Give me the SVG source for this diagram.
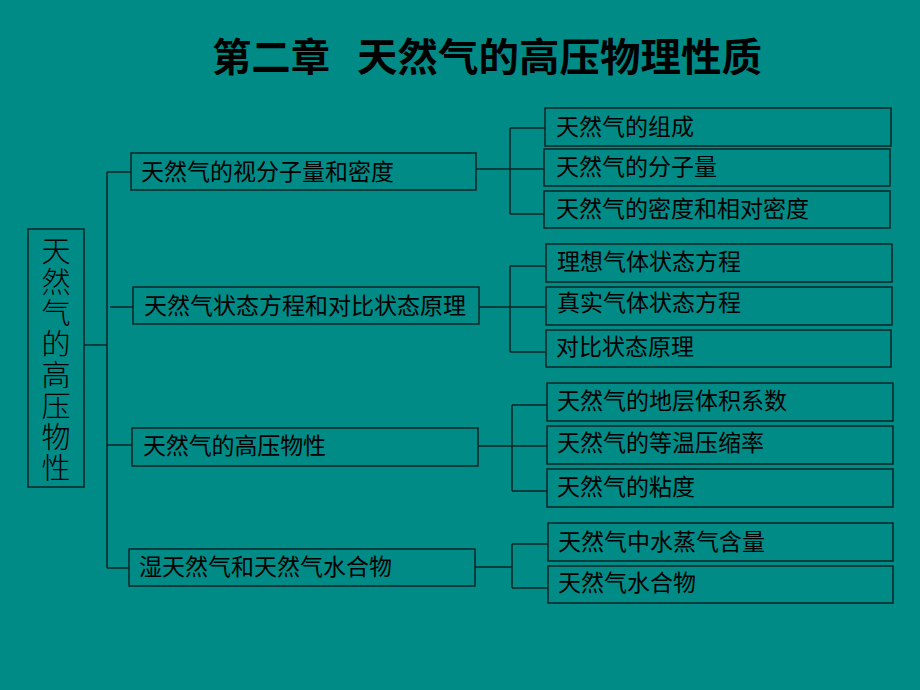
<svg xmlns="http://www.w3.org/2000/svg" width="920" height="690" viewBox="0 0 920 690">
<style>
  .box { fill: none; stroke: #0b2626; stroke-width: 1.5; }
  .ln { fill: none; stroke: #0b2626; stroke-width: 1.5; }
  .t { font-family: "Noto Sans CJK SC", "Noto Sans", sans-serif; font-size: 23px; fill: #000; }
  .title { font-family: "Noto Sans CJK SC", "Noto Sans", sans-serif; font-size: 39px; font-weight: bold; fill: #000; }
  .side { font-family: "Noto Sans CJK SC", sans-serif; font-size: 29px; font-weight: 300; fill: #000; writing-mode: vertical-rl; letter-spacing: 2px; }
</style>
<rect x="0" y="0" width="920" height="690" fill="#008b87"/>
<text class="title" x="212" y="71" textLength="118" lengthAdjust="spacingAndGlyphs">第二章</text>
<text class="title" x="357" y="71" textLength="405" lengthAdjust="spacingAndGlyphs">天然气的高压物理性质</text>

<g id="connectors">
  <path class="ln" d="M84 345 H107 M107 172 V568 M107 172 H131 M110 307 H133 M107 445 H132 M107 568 H129"/>
  <path class="ln" d="M476 169 H510 M510 128 V214 M510 128 H545 M510 169 H544 M510 214 H544"/>
  <path class="ln" d="M479 307 H510 M510 266 V352 M510 266 H546 M510 307 H546 M510 352 H546"/>
  <path class="ln" d="M478 446 H512 M512 405 V491 M512 405 H547 M512 446 H547 M512 491 H547"/>
  <path class="ln" d="M475 567 H512 M512 544 V588 M512 544 H548 M512 588 H548"/>
</g>

<g id="root">
  <rect class="box" x="28" y="229" width="56" height="258"/>
  <text class="side" x="56" y="236">天然气的高压物性</text>
</g>

<g id="m1">
  <rect class="box" x="131" y="153" width="345" height="37"/>
  <text class="t" x="141" y="180" textLength="253">天然气的视分子量和密度</text>
</g>
<g id="m2">
  <rect class="box" x="133" y="287" width="346" height="37"/>
  <text class="t" x="144" y="314" textLength="322">天然气状态方程和对比状态原理</text>
</g>
<g id="m3">
  <rect class="box" x="132" y="428" width="346" height="38"/>
  <text class="t" x="143" y="454" textLength="183">天然气的高压物性</text>
</g>
<g id="m4">
  <rect class="box" x="129" y="549" width="346" height="37"/>
  <text class="t" x="139" y="575" textLength="253">湿天然气和天然气水合物</text>
</g>

<g id="r1">
  <rect class="box" x="545" y="108" width="346" height="38"/>
  <text class="t" x="556" y="135">天然气的组成</text>
</g>
<g id="r2">
  <rect class="box" x="544" y="149" width="346" height="37"/>
  <text class="t" x="556" y="175">天然气的分子量</text>
</g>
<g id="r3">
  <rect class="box" x="544" y="191" width="346" height="37"/>
  <text class="t" x="556" y="217">天然气的密度和相对密度</text>
</g>
<g id="r4">
  <rect class="box" x="546" y="244" width="346" height="38"/>
  <text class="t" x="557" y="270">理想气体状态方程</text>
</g>
<g id="r5">
  <rect class="box" x="546" y="287" width="346" height="38"/>
  <text class="t" x="557" y="311">真实气体状态方程</text>
</g>
<g id="r6">
  <rect class="box" x="546" y="330" width="345" height="37"/>
  <text class="t" x="556" y="355">对比状态原理</text>
</g>
<g id="r7">
  <rect class="box" x="547" y="383" width="346" height="38"/>
  <text class="t" x="557" y="409">天然气的地层体积系数</text>
</g>
<g id="r8">
  <rect class="box" x="547" y="426" width="346" height="38"/>
  <text class="t" x="557" y="451">天然气的等温压缩率</text>
</g>
<g id="r9">
  <rect class="box" x="547" y="469" width="346" height="38"/>
  <text class="t" x="557" y="495">天然气的粘度</text>
</g>
<g id="r10">
  <rect class="box" x="548" y="523" width="345" height="38"/>
  <text class="t" x="558" y="550">天然气中水蒸气含量</text>
</g>
<g id="r11">
  <rect class="box" x="548" y="566" width="345" height="37"/>
  <text class="t" x="558" y="591">天然气水合物</text>
</g>
</svg>
